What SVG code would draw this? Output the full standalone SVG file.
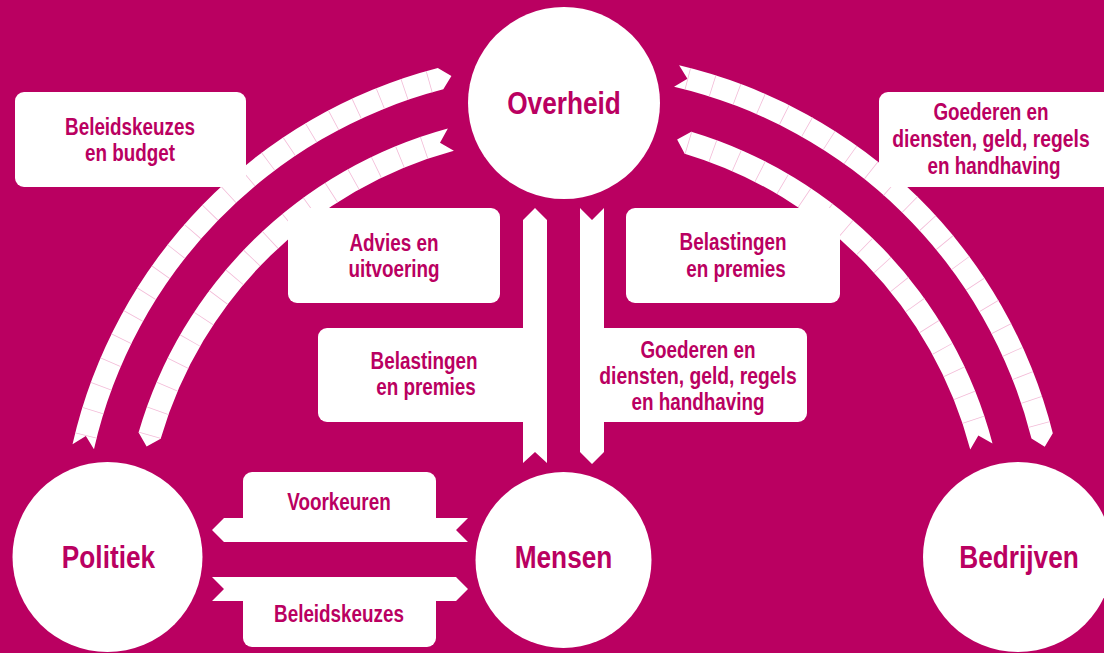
<svg xmlns="http://www.w3.org/2000/svg" width="1104" height="653" viewBox="0 0 1104 653">
<style>
.bg{fill:#BA0061}
.w{fill:#FFFFFF}
.seg{fill:none;stroke:#F3BCD8;stroke-dasharray:0.8 25;}
.t{font-family:'Liberation Sans',Arial,sans-serif;font-weight:bold;fill:#BA0061;text-anchor:middle}
.lbl{font-size:23px}
.node{font-size:32px}
</style>
<rect class="bg" x="0" y="0" width="1104" height="653"/>
<g id="connectors">
  <path id="arc-politiek-overheid" class="w" d="M72.52,444.33 A504 504 0 0 1 437.81,68.05 L451.42,76.03 L443.32,89.35 A482 482 0 0 0 93.98,449.20 L85.85,435.91 Z"/>
  <path id="arc-overheid-politiek" class="w" d="M447.85,128.50 A443 443 0 0 0 138.59,432.41 L146.62,446.50 L160.68,438.82 A420 420 0 0 1 453.88,150.69 L440.0,142.70 Z"/>
  <path id="arc-overheid-bedrijven" class="w" d="M679.09,65.32 A504 504 0 0 1 1052.81,433.23 L1044.75,446.77 L1031.48,438.58 A482 482 0 0 0 674.06,86.73 L687.44,78.70 Z"/>
  <path id="arc-bedrijven-overheid" class="w" d="M691.30,131.69 A443 443 0 0 1 992.50,443.58 L978.37,435.62 L970.25,449.42 A420 420 0 0 0 684.69,153.72 L677.13,139.59 Z"/>
  <path class="seg" stroke-width="22" d="M85.85,435.91 A493 493 0 0 1 440.56,78.70"/>
  <path class="seg" stroke-width="22" d="M687.44,78.70 A493 493 0 0 1 1042.15,435.91"/>
  <path class="seg" stroke-width="23" d="M149.63,435.62 A431.5 431.5 0 0 1 440.0,142.70"/>
  <path class="seg" stroke-width="23" d="M688.0,142.70 A431.5 431.5 0 0 1 978.37,435.62"/>
  <path id="mensen-overheid" class="w" d="M535,208 L547,220 L547,463 L535,452 L523,463 L523,220 Z"/>
  <path id="overheid-mensen" class="w" d="M580,208 L592,220 L604,208 L604,452 L592,464 L580,452 Z"/>
  <path id="mensen-politiek" class="w" d="M212,530 L224,518 L468,518 L456,530 L468,542 L224,542 Z"/>
  <path id="politiek-mensen" class="w" d="M212,577 L456,577 L468,589 L456,601 L212,601 L224,589 Z"/>
</g>
<g id="labels">
  <g id="lbl-beleid-budget">
    <rect class="w" x="15" y="92" width="231" height="95" rx="9"/>
    <text class="t lbl" transform="translate(130,135) scale(0.82,1)">Beleidskeuzes</text>
    <text class="t lbl" transform="translate(130,161) scale(0.82,1)">en budget</text>
  </g>
  <g id="lbl-advies">
    <rect class="w" x="288" y="208" width="212" height="95" rx="9"/>
    <text class="t lbl" transform="translate(394,251) scale(0.82,1)">Advies en</text>
    <text class="t lbl" transform="translate(394,277) scale(0.82,1)">uitvoering</text>
  </g>
  <g id="lbl-belastingen-mensen">
    <rect class="w" x="318" y="328" width="215" height="94" rx="9"/>
    <text class="t lbl" transform="translate(424,369) scale(0.82,1)">Belastingen</text>
    <text class="t lbl" transform="translate(426,395) scale(0.82,1)">en premies</text>
  </g>
  <g id="lbl-goederen-mensen">
    <rect class="w" x="594" y="328" width="213" height="94" rx="9"/>
    <text class="t lbl" transform="translate(698,358) scale(0.82,1)">Goederen en</text>
    <text class="t lbl" transform="translate(698,384) scale(0.84,1)">diensten, geld, regels</text>
    <text class="t lbl" transform="translate(698,410) scale(0.82,1)">en handhaving</text>
  </g>
  <g id="lbl-belastingen-bedrijven">
    <rect class="w" x="626" y="208" width="214" height="95" rx="9"/>
    <text class="t lbl" transform="translate(733,250) scale(0.82,1)">Belastingen</text>
    <text class="t lbl" transform="translate(736,277) scale(0.82,1)">en premies</text>
  </g>
  <g id="lbl-goederen-bedrijven">
    <rect class="w" x="879" y="92" width="240" height="95" rx="9"/>
    <text class="t lbl" transform="translate(991,120) scale(0.82,1)">Goederen en</text>
    <text class="t lbl" transform="translate(991,147) scale(0.84,1)">diensten, geld, regels</text>
    <text class="t lbl" transform="translate(994,174) scale(0.82,1)">en handhaving</text>
  </g>
  <g id="lbl-voorkeuren">
    <rect class="w" x="243" y="472" width="193" height="60" rx="9"/>
    <text class="t lbl" transform="translate(339,510) scale(0.82,1)">Voorkeuren</text>
  </g>
  <g id="lbl-beleidskeuzes">
    <rect class="w" x="243" y="590" width="193" height="57" rx="9"/>
    <text class="t lbl" transform="translate(339,622) scale(0.82,1)">Beleidskeuzes</text>
  </g>
</g>
<g id="node-overheid">
  <circle class="w" cx="564" cy="103" r="96"/>
  <text class="t node" transform="translate(564,114) scale(0.82,1)">Overheid</text>
</g>
<g id="node-politiek">
  <circle class="w" cx="107.5" cy="557" r="95"/>
  <text class="t node" transform="translate(108.5,568) scale(0.82,1)">Politiek</text>
</g>
<g id="node-mensen">
  <circle class="w" cx="563.5" cy="560" r="88"/>
  <text class="t node" transform="translate(563.5,568) scale(0.82,1)">Mensen</text>
</g>
<g id="node-bedrijven">
  <circle class="w" cx="1018" cy="557" r="95"/>
  <text class="t node" transform="translate(1019,568) scale(0.82,1)">Bedrijven</text>
</g>
</svg>
